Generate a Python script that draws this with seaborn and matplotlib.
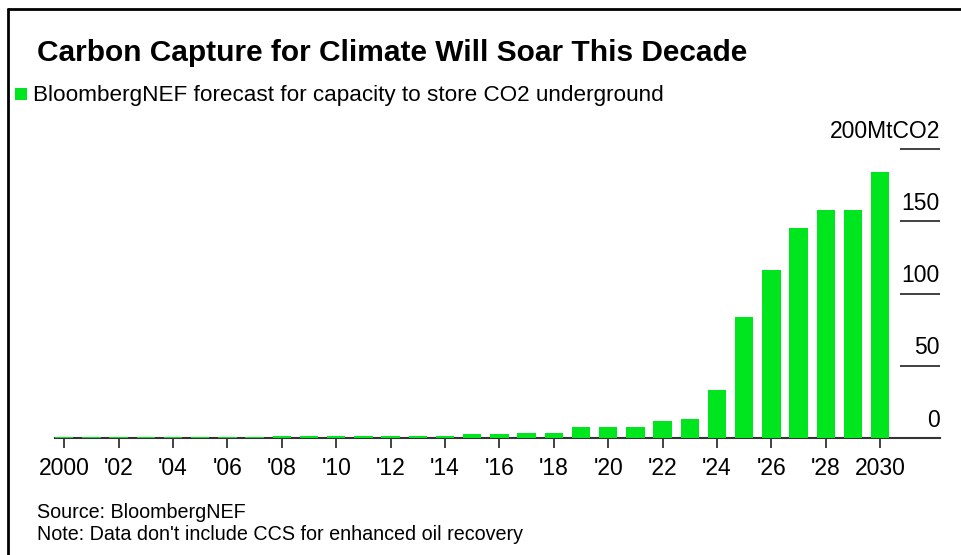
import matplotlib
matplotlib.use("Agg")
import matplotlib.pyplot as plt
import seaborn as sns
import pandas as pd
from matplotlib.lines import Line2D
from matplotlib.patches import Rectangle

# CO2 storage capacity, MtCO2 per year
years = list(range(2000, 2031))
capacity = [0.5, 0.5, 0.5, 0.5, 0.5, 0.5, 0.5, 0.5,
            1.5, 1.5, 1.5, 1.5, 1.5, 1.5, 1.5,
            2.5, 2.5, 3.5, 3.5,
            7.5, 7.5, 7.5, 11.5, 13,
            33.5, 83.5, 116.5, 145, 158, 158, 184]

tick_years = list(range(2000, 2031, 2))
tick_labels = ["2000", "'02", "'04", "'06", "'08", "'10", "'12", "'14",
               "'16", "'18", "'20", "'22", "'24", "'26", "'28", "2030"]
y_ticks = [0, 50, 100, 150, 200]
y_labels = ["0", "50", "100", "150", "200MtCO2"]

title = "Carbon Capture for Climate Will Soar This Decade"
legend_label = "BloombergNEF forecast for capacity to store CO2 underground"
source = "Source: BloombergNEF"
note = "Note: Data don't include CCS for enhanced oil recovery"

GREEN = "#00e61e"
DARK = "#333333"

sns.set_theme(style="white")
plt.rcParams["font.family"] = ["Liberation Sans", "DejaVu Sans"]

W, H = 962, 555
fig = plt.figure(figsize=(W / 100, H / 100), dpi=100)
fig.patch.set_facecolor("white")

ax = fig.add_axes([55 / W, 117 / H, 885 / W, 289 / H])
df = pd.DataFrame({"year": years, "capacity": capacity})
sns.barplot(data=df, x="year", y="capacity", color=GREEN, saturation=1,
            width=0.68, linewidth=0, ax=ax, zorder=3)

ax.set_xlim(-0.34, 32.2)
ax.set_ylim(0, 200)
ax.set_xlabel("")
ax.set_ylabel("")

for side in ("top", "left", "right"):
    ax.spines[side].set_visible(False)
ax.spines["bottom"].set_color(DARK)
ax.spines["bottom"].set_linewidth(1.5)
ax.spines["bottom"].set_zorder(2)

ax.set_xticks([years.index(y) for y in tick_years])
ax.set_xticklabels(tick_labels)
ax.tick_params(axis="x", bottom=True, length=7, width=1.3, color=DARK,
               pad=7, labelsize=16.5, labelcolor="black", direction="out")
ax.set_yticks([])

# short right-hand gridlines with labels sitting above them
yt = ax.get_yaxis_transform()
ax.hlines(y_ticks[1:], 0.955, 1.0, transform=yt, color=DARK, lw=1.3,
          clip_on=False)
for val, lbl in zip(y_ticks, y_labels):
    ax.annotate(lbl, xy=(1.0, val), xycoords=yt, xytext=(0, 4.5),
                textcoords="offset points", ha="right", va="bottom",
                fontsize=16.5, color="black", annotation_clip=False)

# title, legend key and footnotes
fig.text(37 / W, 1 - 61 / H, title, fontsize=21.5, fontweight="bold",
         va="baseline", color="black")
fig.add_artist(Rectangle((15 / W, 1 - 100 / H), 12 / W, 12 / H,
                         transform=fig.transFigure, color=GREEN, lw=0))
fig.text(33 / W, 1 - 101 / H, legend_label, fontsize=16.2, va="baseline",
         color="black")
fig.text(37 / W, 1 - 518 / H, source, fontsize=14.2, va="baseline",
         color="black")
fig.text(37 / W, 1 - 540 / H, note, fontsize=14.2, va="baseline",
         color="black")

# frame on top and left
fig.add_artist(Line2D([8 / W, 1], [1 - 9 / H, 1 - 9 / H], color="black",
                      lw=2, transform=fig.transFigure))
fig.add_artist(Line2D([8 / W, 8 / W], [0, 1 - 9 / H], color="black",
                      lw=2, transform=fig.transFigure))

fig.savefig("out.png", dpi=100, facecolor="white")
